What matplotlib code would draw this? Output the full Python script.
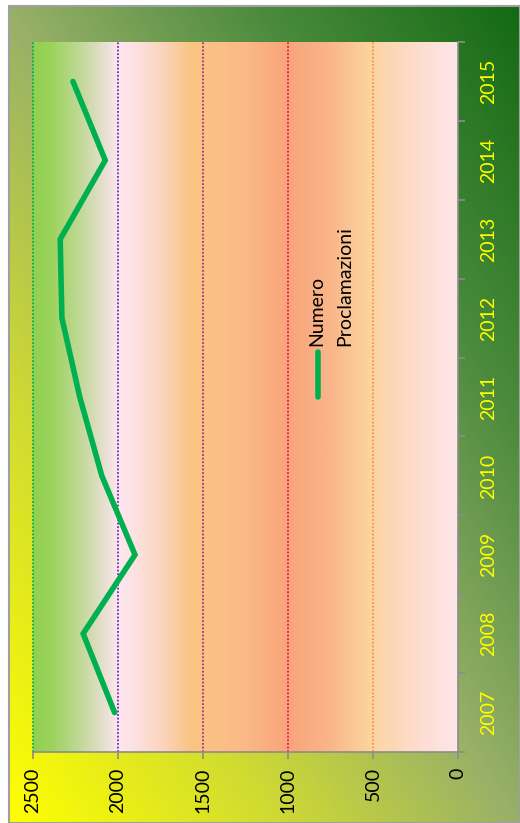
import matplotlib
matplotlib.use("Agg")
import matplotlib.pyplot as plt
import numpy as np
from matplotlib.colors import LinearSegmentedColormap
from matplotlib.patches import Rectangle

plt.rcParams['font.family'] = ['Lato', 'DejaVu Sans']

# data
years = ["2007", "2008", "2009", "2010", "2011", "2012", "2013", "2014", "2015"]
proclamazioni = [2020, 2205, 1900, 2095, 2225, 2330, 2340, 2075, 2265]
value_ticks = [0, 500, 1000, 1500, 2000, 2500]
grid_colors = {500: "#f79646", 1000: "#e31b4f", 1500: "#a8307f", 2000: "#7030a0", 2500: "#00b050"}
series_name = "Numero\nProclamazioni"

W, H = 520, 823
fig = plt.figure(figsize=(W / 100, H / 100), dpi=100)
fig.patch.set_facecolor("white")

# outer chart area: diagonal yellow -> dark green fade
bg = fig.add_axes([9 / W, 0, 1 - 9 / W, 1 - 6 / H], zorder=0)
u = np.linspace(0, 1, 200)
v = np.linspace(0, 1, 300)
U, V = np.meshgrid(u, v)
T = (U + V) / 2  # origin lower -> bottom-left = 0, top-right = 1
bg_cmap = LinearSegmentedColormap.from_list("bg", [
    (0.0, "#ffff00"), (0.25, "#d2dc30"), (0.5, "#98b068"),
    (0.75, "#4a8a3c"), (1.0, "#146a14")])
bg.imshow(T, cmap=bg_cmap, origin="lower", aspect="auto", extent=[0, 1, 0, 1])
bg.set_xlim(0, 1)
bg.set_ylim(0, 1)
bg.axis("off")
fig.add_artist(Rectangle((9 / W, 0), 1 - 9 / W, 1 - 6 / H, transform=fig.transFigure,
                         fill=False, edgecolor="#a0a0a0", lw=1.5, zorder=1))

# plot area
left, right, top, bottom = 33, 458, 42, 752
ax = fig.add_axes([left / W, 1 - bottom / H, (right - left) / W, (bottom - top) / H], zorder=2)
ax.set_xlim(2500, 0)
ax.set_ylim(-0.5, len(years) - 0.5)

# plot-area fill, varies along the value axis
pa_cmap = LinearSegmentedColormap.from_list("pa", [
    (0.00, "#92d050"), (0.04, "#9cd35c"), (0.10, "#bcd88f"), (0.14, "#d6dcb6"),
    (0.20, "#fde6f2"), (0.25, "#fde0dc"), (0.32, "#fbd0b0"), (0.37, "#f9c582"),
    (0.49, "#fbbb88"), (0.60, "#f9a47a"), (0.70, "#fab589"), (0.79, "#fcd39d"),
    (0.90, "#fddccc"), (1.00, "#fee6e8")])
grad = np.linspace(0, 1, 400).reshape(1, -1)
ax.imshow(grad, cmap=pa_cmap, aspect="auto",
          extent=[2500, 0, -0.5, len(years) - 0.5], zorder=0)

for val, col in grid_colors.items():
    ax.axvline(val, color=col, lw=1.3, ls=(0, (1, 1)), zorder=1, clip_on=False)

y = np.arange(len(years))
ax.plot(proclamazioni, y, color="#00b050", lw=4, solid_capstyle="round",
        solid_joinstyle="miter", zorder=3)

# axes styling
for s in ["top", "left"]:
    ax.spines[s].set_visible(False)
for s in ["bottom", "right"]:
    ax.spines[s].set_color("#8c8c8c")
    ax.spines[s].set_linewidth(1.2)

ax.set_xticks(value_ticks)
ax.set_xticklabels([str(t) for t in value_ticks], rotation=90, fontsize=14, color="black")
ax.tick_params(axis="x", direction="out", length=5, width=1.2, color="#8c8c8c", pad=6)

ax.yaxis.tick_right()
ax.set_yticks(np.arange(-0.5, len(years)), minor=False)
ax.set_yticklabels([])
ax.set_yticks(y, minor=True)
ax.set_yticklabels(years, minor=True, rotation=90, fontsize=14, color="#ffff00",
                   va="center")
ax.tick_params(axis="y", which="major", direction="out", length=5, width=1.2,
               color="#8c8c8c", left=False, right=True)
ax.tick_params(axis="y", which="minor", length=0, pad=16, left=False, right=True)

# legend key drawn vertically
kx = (318 - left) / (right - left)
ax.plot([kx, kx], [(bottom - 397) / (bottom - top), (bottom - 352) / (bottom - top)],
        transform=ax.transAxes, color="#00b050", lw=4, solid_capstyle="round", zorder=4)
ty = (bottom - 346) / (bottom - top)
for i, line in enumerate(series_name.split("\n")):
    tx = (317 + 28 * i - left) / (right - left)
    ax.text(tx, ty, line, transform=ax.transAxes, rotation=90, rotation_mode="anchor",
            ha="left", va="center", fontsize=14, color="black", zorder=4)

fig.savefig("out.png", dpi=100)
